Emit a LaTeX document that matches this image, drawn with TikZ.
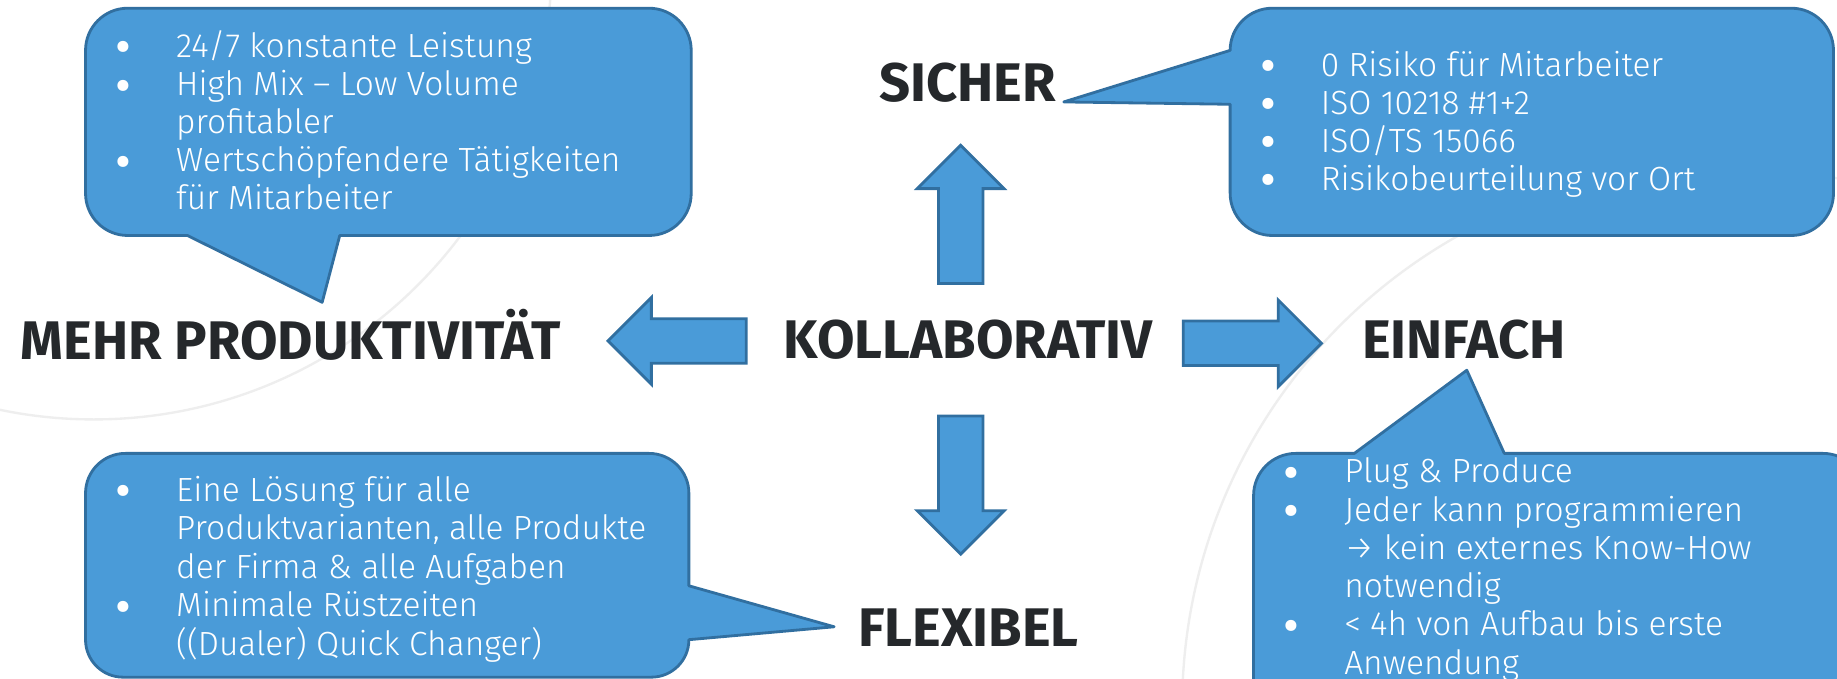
\documentclass[tikz,border=0pt]{standalone}
\usepackage{fontspec}
\setmainfont{Fira Sans}[UprightFont=* Light, BoldFont=* Bold]
\usepackage{xcolor}
\definecolor{bubblue}{RGB}{74,155,216}
\definecolor{bubedge}{RGB}{49,111,160}
\definecolor{ink}{RGB}{37,40,43}
\definecolor{ring}{RGB}{238,238,238}
% block arrow pointing along +x from its tail at #1, turned by #2
\newcommand{\blockarrow}[2]{%
  \draw[barrow,shift={#1},rotate=#2] (0,-19) -- (81,-19) -- (81,-37) -- (118,0) -- (81,37) -- (81,19) -- (0,19) -- cycle;}

\begin{document}
\begin{tikzpicture}[x=0.5pt,y=-0.5pt,
  bubble/.style={fill=bubblue,draw=bubedge,line width=1.2pt,line join=round},
  barrow/.style={fill=bubblue,draw=bubedge,line width=1.2pt},
  bubtext/.style={anchor=base west,inner sep=0pt,text=white,font=\fontsize{14.3}{16}\selectfont},
  bubdot/.style={anchor=base west,inner sep=0pt,text=white,font=\fontsize{17}{18}\selectfont\bfseries},
  keyword/.style={anchor=base,inner sep=0pt,text=ink,font=\fontsize{23.2}{27}\selectfont\bfseries},
  faint/.style={draw=ring,line width=1pt}]

\useasboundingbox[fill=white] (0,0) rectangle (1568,579);
\clip (0,0) rectangle (1568,579);

% thin rings in the background
\draw[faint] (80,-33) circle[radius=391];
\draw[faint] (1471,604) circle[radius=462];

% callouts
\draw[bubble] (160,201) -- (109,201) arc[start angle=90,end angle=180,radius=36]
  -- (73,43) arc[start angle=180,end angle=270,radius=36]
  -- (554,7) arc[start angle=270,end angle=360,radius=36]
  -- (590,165) arc[start angle=0,end angle=90,radius=36]
  -- (290,201) -- (275,258) -- cycle;
\draw[bubble] (1050,89) -- (908,87) -- (1050,43) arc[start angle=180,end angle=270,radius=36]
  -- (1529,7) arc[start angle=270,end angle=360,radius=36]
  -- (1565,165) arc[start angle=0,end angle=90,radius=36]
  -- (1086,201) arc[start angle=90,end angle=180,radius=36] -- cycle;
\draw[bubble] (588,500) -- (712,535) -- (588,546) arc[start angle=0,end angle=90,radius=32]
  -- (105,578) arc[start angle=90,end angle=180,radius=32]
  -- (73,421) arc[start angle=180,end angle=270,radius=34]
  -- (554,387) arc[start angle=270,end angle=360,radius=34] -- cycle;
\draw[bubble] (1156,387) -- (1252,316) -- (1284,387)
  -- (1556,387) arc[start angle=270,end angle=360,radius=36]
  -- (1592,620) -- (1070,620) -- (1070,423) arc[start angle=180,end angle=270,radius=36] -- cycle;

% arrows out of the middle
\blockarrow{(820,242)}{90}
\blockarrow{(637,291)}{180}
\blockarrow{(1010,293)}{0}
\blockarrow{(820,355)}{-90}

% callout texts
\foreach \t [count=\i from 0] in {{24/7 konstante Leistung},{High Mix – Low Volume},{profitabler},{Wertschöpfendere Tätigkeiten},{für Mitarbeiter}}
  \node[bubtext] (prod\i) at (150,49+32.5*\i) {\t};
\foreach \i in {0,1,3}
  \node[bubdot] (proddot\i) at (99,52+32.5*\i) {\textbullet};

\foreach \t [count=\i from 0] in {{0 Risiko für Mitarbeiter},{ISO 10218 \#1+2},{ISO/TS 15066},{Risikobeurteilung vor Ort}}
  \node[bubtext] (safe\i) at (1127,65+32.5*\i) {\t};
\foreach \i in {0,...,3}
  \node[bubdot] (safedot\i) at (1076,68+32.5*\i) {\textbullet};

\foreach \t [count=\i from 0] in {{Eine Lösung für alle},{Produktvarianten, alle Produkte},{der Firma \& alle Aufgaben},{Minimale Rüstzeiten},{((Dualer) Quick Changer)}}
  \node[bubtext] (flex\i) at (150,428+32.8*\i) {\t};
\foreach \i in {0,3}
  \node[bubdot] (flexdot\i) at (99,431+32.8*\i) {\textbullet};

\foreach \t [count=\i from 0] in {{Plug \& Produce},{Jeder kann programmieren},{→ kein externes Know-How},{notwendig},{< 4h von Aufbau bis erste},{Anwendung}}
  \node[bubtext] (easy\i) at (1147,412+32.7*\i) {\t};
\foreach \i in {0,1,4}
  \node[bubdot] (easydot\i) at (1096,415+32.7*\i) {\textbullet};

% headwords
\node[keyword] (sicher) at (826,87) {SICHER};
\node[keyword] (mehr) at (248,307) {MEHR PRODUKTIVITÄT};
\node[keyword] (kollab) at (826.5,306) {KOLLABORATIV};
\node[keyword] (einfach) at (1249.5,306) {EINFACH};
\node[keyword] (flexibel) at (826.5,552) {FLEXIBEL};
\end{tikzpicture}
\end{document}
